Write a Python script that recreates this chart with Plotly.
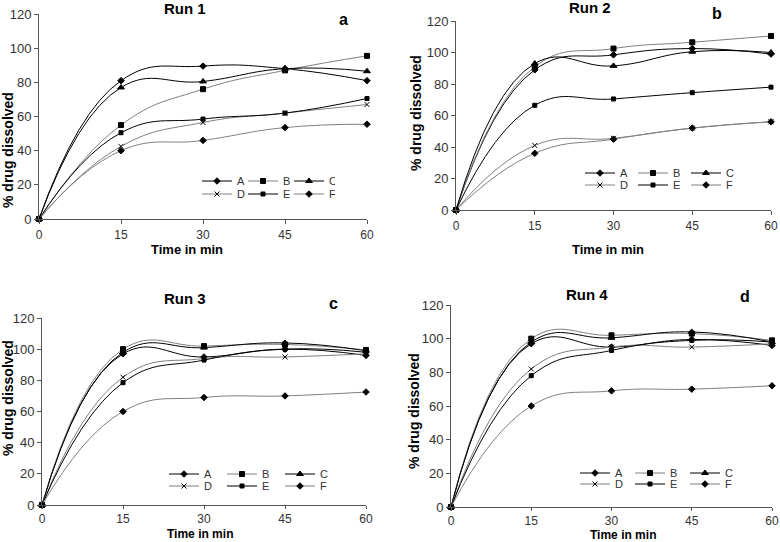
import plotly.graph_objects as go
from plotly.subplots import make_subplots

# time points (min)
time_min = [0, 15, 30, 45, 60]
series_names = ["A", "B", "C", "D", "E", "F"]

# % drug dissolved
run1_A = [0, 81, 89.5, 88, 81]
run1_B = [0, 55, 76, 87, 95.5]
run1_C = [0, 77, 80.5, 88, 86.5]
run1_D = [0, 42.5, 56.5, 62, 67]
run1_E = [0, 50.5, 58.5, 62, 70.5]
run1_F = [0, 40, 46, 53.5, 55.5]

run2_A = [0, 89, 98.5, 102.5, 99]
run2_B = [0, 91, 102.5, 106.5, 110.5]
run2_C = [0, 93, 91.5, 100.5, 100]
run2_D = [0, 41, 45.5, 52, 56]
run2_E = [0, 66.5, 70.5, 74.5, 78]
run2_F = [0, 36, 45, 52, 56]

run3_A = [0, 97, 95, 100, 96]
run3_B = [0, 100, 102, 103, 99.5]
run3_C = [0, 98, 101, 104, 99]
run3_D = [0, 82, 94, 95, 97]
run3_E = [0, 78.5, 93, 100, 98]
run3_F = [0, 60, 69, 70, 72.5]

run4_A = [0, 97, 95, 99.5, 96]
run4_B = [0, 100, 102, 103, 99]
run4_C = [0, 98, 100.5, 104, 98]
run4_D = [0, 82, 95, 95, 97]
run4_E = [0, 78, 93, 99, 98]
run4_F = [0, 60, 69, 70, 72]

runs = [
    [run1_A, run1_B, run1_C, run1_D, run1_E, run1_F],
    [run2_A, run2_B, run2_C, run2_D, run2_E, run2_F],
    [run3_A, run3_B, run3_C, run3_D, run3_E, run3_F],
    [run4_A, run4_B, run4_C, run4_D, run4_E, run4_F],
]
run_titles = ["Run 1", "Run 2", "Run 3", "Run 4"]
panel_letters = ["a", "b", "c", "d"]

symbols = ["diamond", "square", "triangle-up", "x-thin-open", "square", "diamond"]
msizes = [5, 5, 6, 5, 4, 5]
lcolors = ["#000000", "#7f7f7f", "#000000", "#7f7f7f", "#000000", "#7f7f7f"]

W, H = 780, 542
# plot areas in pixels: x0, x1, ytop, ybottom
boxes = [
    (39, 367, 14, 219),
    (456, 771, 21, 210),
    (42, 366, 318, 505),
    (451, 772, 305, 507),
]

FONT = "Liberation Sans, Arial, sans-serif"

fig = make_subplots(rows=2, cols=2)

for i, run in enumerate(runs):
    r, c = i // 2 + 1, i % 2 + 1
    for j, vals in enumerate(run):
        n = 2 * i + j // 3
        leg = "legend" if n == 0 else "legend%d" % (n + 1)
        fig.add_trace(go.Scatter(
            x=time_min, y=vals, name=series_names[j],
            mode="lines+markers",
            line=dict(color=lcolors[j], width=1, shape="spline", smoothing=1.3),
            marker=dict(symbol=symbols[j], size=msizes[j], color="#000000",
                        line=dict(color="#000000", width=1)),
            legend=leg, showlegend=True, cliponaxis=False,
        ), row=r, col=c)

axis_common = dict(showgrid=False, zeroline=False, showline=True, automargin=False,
                   linecolor="#555555", linewidth=1, ticks="outside",
                   ticklen=4, tickcolor="#555555",
                   tickfont=dict(family=FONT, size=13, color="#333333"))

annotations = []
legends = {}
# legend left x, row 1 y, row 2 y, entry width
leg_pos = [
    (197, 181, 194, 1),
    (580, 173, 185, 8),
    (164, 474, 486, 13),
    (575, 473, 484, 10),
]


def ann(text, x, y, size, angle=0):
    return dict(text=text, x=x / W, y=1 - y / H, xref="paper", yref="paper",
                xanchor="center", yanchor="middle", textangle=angle,
                showarrow=False, font=dict(family=FONT, size=size, color="#000"))


for i, (x0, x1, yt, yb) in enumerate(boxes):
    ax = "" if i == 0 else str(i + 1)
    fig.layout["xaxis" + ax].update(
        domain=[x0 / W, x1 / W], range=[0, 60], tickvals=time_min,
        **axis_common)
    fig.layout["xaxis" + ax].update(ticklabelstandoff=1 if i < 2 else 0,
                                    ticklen=4 if i < 2 else 3)
    fig.layout["xaxis" + ax].tickfont.size = 12
    fig.layout["yaxis" + ax].update(
        domain=[1 - yb / H, 1 - yt / H], range=[0, 120], dtick=20,
        **axis_common)
    annotations.append(ann("<b>%s</b>" % run_titles[i],
                           [185, 590, 185, 587][i], [9, 7, 298, 294][i], 15))
    annotations.append(ann("<b>%s</b>" % panel_letters[i],
                           [343, 717, 333, 745][i], [20, 13, 303, 296][i], 16))
    annotations.append(ann("<b>Time in min</b>", [187, 608, 200, 623][i],
                           [249, 249, 534, 535][i], [13, 13, 12, 12][i]))
    annotations.append(ann("<b>% drug dissolved</b>", [8, 416, 8, 414][i],
                           [150, 113, 398, 411][i], 14, angle=-90))
    lx, ly1, ly2, ew = leg_pos[i]
    for k, ly in enumerate([ly1, ly2]):
        n = 2 * i + k
        name = "legend" if n == 0 else "legend%d" % (n + 1)
        legends[name] = dict(
            x=lx / W, y=1 - ly / H, xanchor="left", yanchor="middle",
            orientation="h", bgcolor="rgba(0,0,0,0)",
            font=dict(family=FONT, size=11, color="#333333"),
            itemwidth=30, entrywidth=ew, entrywidthmode="pixels",
            tracegroupgap=0,
        )

fig.update_layout(
    width=W, height=H,
    margin=dict(l=0, r=0, t=0, b=0, pad=0),
    paper_bgcolor="white", plot_bgcolor="white",
    annotations=annotations,
    font=dict(family=FONT),
    **legends,
)

fig.write_html("out.html", config={"displayModeBar": False},
               post_script="document.body.style.margin='0px';")
